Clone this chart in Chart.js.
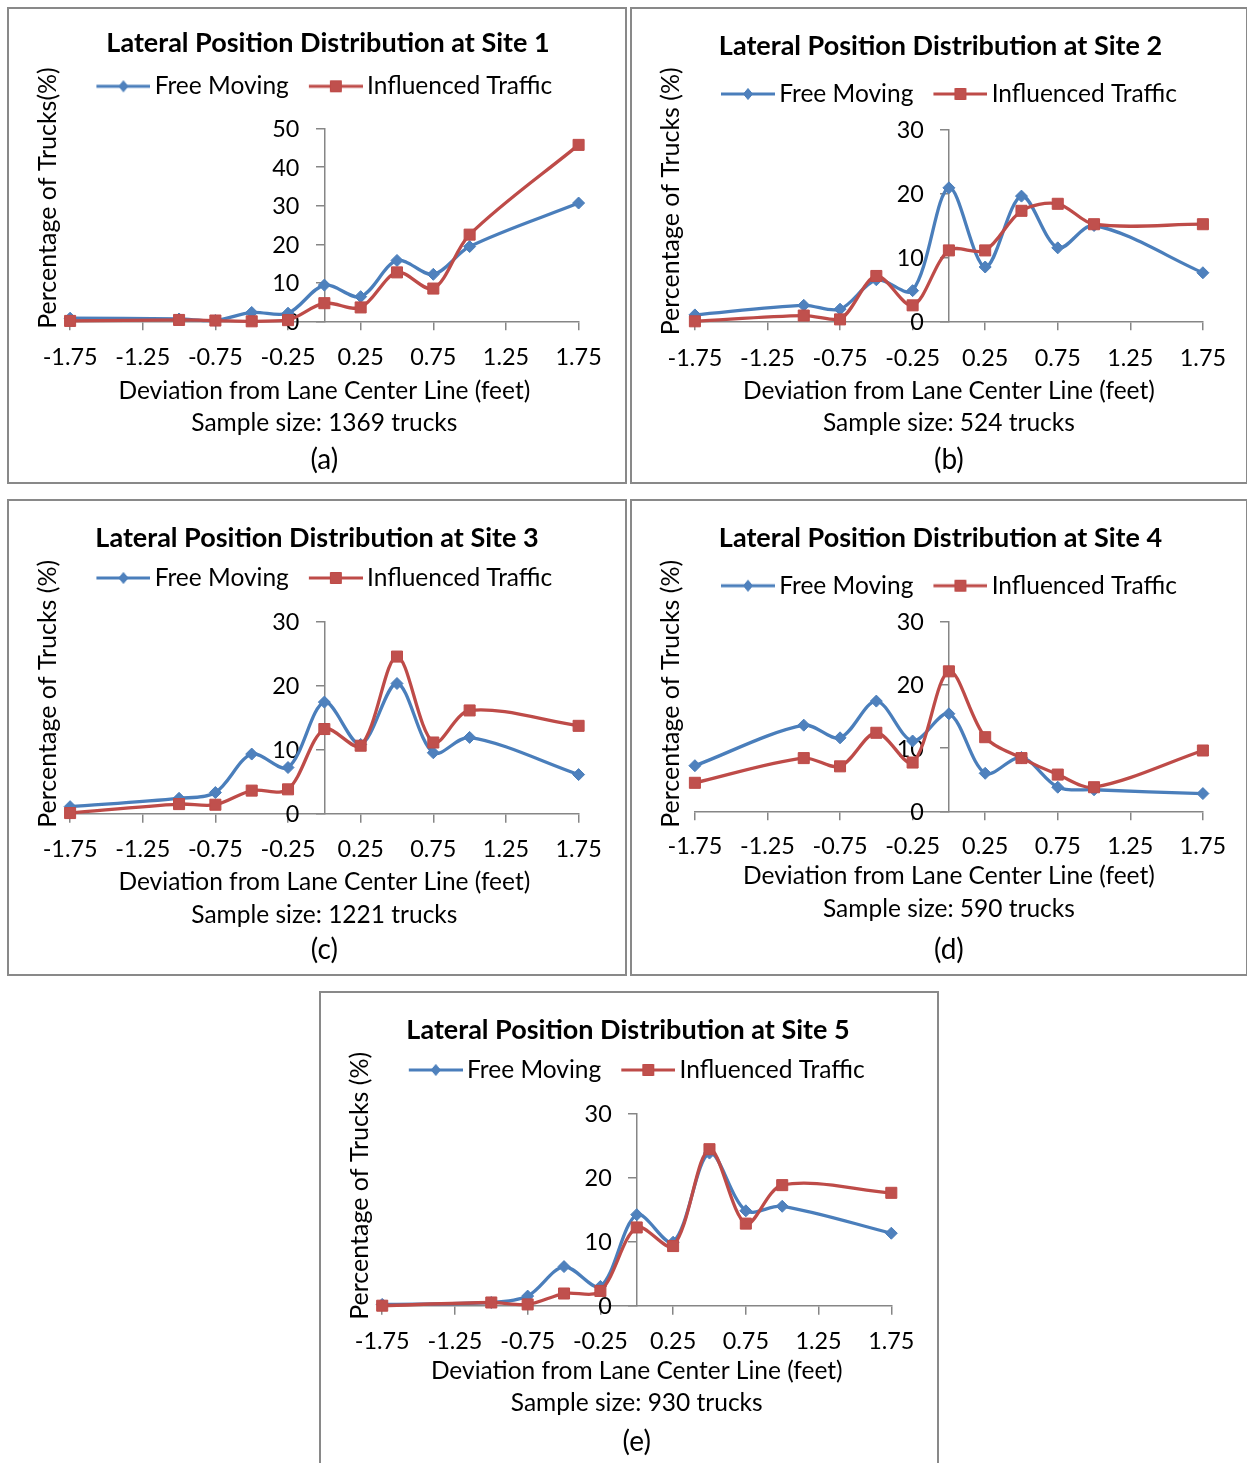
<!DOCTYPE html>
<html>
<head>
<meta charset="utf-8">
<title>Lateral Position Distribution</title>
<script src="https://cdn.jsdelivr.net/npm/chart.js@4.4.1/dist/chart.umd.min.js"></script>
<style>
  html, body { margin: 0; padding: 0; background: #ffffff; }
  body { width: 1247px; height: 1463px; overflow: hidden; position: relative; }
  .panel { position: absolute; box-sizing: border-box; border: 2px solid #898989; background: #ffffff; }
  .panel canvas { display: block; }
</style>
</head>
<body>
<div class="panel" style="left:7px;top:7px;width:620px;height:477px"><canvas id="site1"></canvas></div>
<div class="panel" style="left:630px;top:7px;width:618px;height:477px"><canvas id="site2"></canvas></div>
<div class="panel" style="left:7px;top:499px;width:620px;height:477px"><canvas id="site3"></canvas></div>
<div class="panel" style="left:630px;top:499px;width:618px;height:477px"><canvas id="site4"></canvas></div>
<div class="panel" style="left:319px;top:991px;width:620px;height:477px"><canvas id="site5"></canvas></div>
<script>
// Lateral offsets (feet) at which the truck shares were tallied
const offsets = [-1.75, -1, -0.75, -0.5, -0.25, 0, 0.25, 0.5, 0.75, 1, 1.75];
// Labelled tick positions on the deviation axis
const xTicks = [-1.75, -1.25, -0.75, -0.25, 0.25, 0.75, 1.25, 1.75];

const seriesNames = ['Free Moving', 'Influenced Traffic'];

// Percentage of trucks per offset, site by site
const site1Free = [0.8, 0.6, 0.2, 2.3, 2.1, 9.4, 6.4, 15.8, 12.2, 19.4, 30.7];
const site1Infl = [0.1, 0.35, 0.2, 0.0, 0.3, 4.7, 3.6, 12.7, 8.5, 22.5, 45.8];
const site2Free = [1.0, 2.5, 1.9, 6.5, 4.8, 20.9, 8.5, 19.6, 11.5, 15.0, 7.6];
const site2Infl = [0.0, 0.9, 0.3, 7.1, 2.5, 11.1, 11.1, 17.3, 18.4, 15.2, 15.2];
const site3Free = [1.1, 2.4, 3.3, 9.3, 7.2, 17.4, 10.8, 20.3, 9.5, 11.9, 6.1];
const site3Infl = [0.1, 1.5, 1.4, 3.6, 3.8, 13.2, 10.6, 24.5, 11.1, 16.1, 13.7];
const site4Free = [7.2, 13.6, 11.6, 17.4, 11.1, 15.4, 6.0, 8.5, 3.8, 3.4, 2.8];
const site4Infl = [4.5, 8.4, 7.1, 12.4, 7.7, 22.1, 11.7, 8.4, 5.8, 3.8, 9.6];
const site5Free = [0.2, 0.5, 1.5, 6.1, 3.0, 14.2, 9.9, 23.8, 14.8, 15.5, 11.3];
const site5Infl = [0.0, 0.5, 0.2, 1.9, 2.3, 12.2, 9.3, 24.4, 12.8, 18.8, 17.6];

const siteTitles = [
  'Lateral Position Distribution at Site 1',
  'Lateral Position Distribution at Site 2',
  'Lateral Position Distribution at Site 3',
  'Lateral Position Distribution at Site 4',
  'Lateral Position Distribution at Site 5'
];
const yTitles = [
  'Percentage of Trucks(%)',
  'Percentage of Trucks (%)',
  'Percentage of Trucks (%)',
  'Percentage of Trucks (%)',
  'Percentage of Trucks (%)'
];
const xTitle = 'Deviation from Lane Center Line (feet)';
const sampleSizes = [1369, 524, 1221, 590, 930];
const panelTags = ['(a)', '(b)', '(c)', '(d)', '(e)'];
const yMaxima = [50, 30, 30, 30, 30];

const freeSeries = [site1Free, site2Free, site3Free, site4Free, site5Free];
const inflSeries = [site1Infl, site2Infl, site3Infl, site4Infl, site5Infl];

// ---- styling ----
const FONT = "Lato, 'Open Sans', 'DejaVu Sans', sans-serif";
const BLUE_LINE = '#4A7EBB', BLUE_FILL = '#4F81BD';
const RED_LINE = '#BE4B48', RED_FILL = '#C0504D';
const AXIS = '#868686';
const CANVAS_H = 473;

// Placement of each panel's pieces inside its canvas
const frames = [
  { w: 616, T: 34.0, L: 77.3, pl: 61.1, pr: 569.6, pt: 119.7, pb: 312.3, tick: 348.3, xt: 381.7, tag: 450.7, shift: 22, yt: [38.6, 189.0] },
  { w: 614, T: 37.3, L: 85.0, pl: 62.9, pr: 570.9, pt: 120.7, pb: 312.3, tick: 349.0, xt: 381.7, tag: 451.3, shift: 3,  yt: [39.3, 192.3] },
  { w: 616, T: 37.0, L: 77.0, pl: 61.1, pr: 569.6, pt: 120.3, pb: 312.7, tick: 348.7, xt: 381.3, tag: 448.7, shift: 0,  yt: [39.0, 192.8] },
  { w: 614, T: 37.0, L: 84.7, pl: 62.9, pr: 570.9, pt: 120.3, pb: 310.3, tick: 345.3, xt: 375.3, tag: 448.7, shift: 3,  yt: [39.3, 192.8] },
  { w: 616, T: 37.0, L: 77.0, pl: 61.2, pr: 570.3, pt: 120.3, pb: 312.7, tick: 348.7, xt: 378.0, tag: 448.7, shift: -2, yt: [39.0, 192.8] }
];

// Text sizes
const TITLE_SIZE = 27, LEGEND_SIZE = 24.5, TICK_SIZE = 23.4, XT_SIZE = 24.5, TAG_SIZE = 28, YT_SIZE = 25;

// Rotated title drawn beside the value axis
const sideTitle = {
  id: 'sideTitle',
  afterDraw(chart, args, opts) {
    const ctx = chart.ctx;
    ctx.save();
    ctx.translate(opts.x, opts.y);
    ctx.rotate(-Math.PI / 2);
    ctx.font = opts.font;
    ctx.fillStyle = opts.color;
    ctx.textAlign = 'center';
    ctx.textBaseline = 'middle';
    ctx.fillText(opts.text, 0, 0);
    ctx.restore();
  }
};

// Value-axis numbers, set to the left of the axis that crosses at x = 0
const valueLabels = {
  id: 'valueLabels',
  beforeDatasetsDraw(chart, args, opts) {
    const ctx = chart.ctx;
    const ys = chart.scales.y;
    const ax = chart.scales.x.getPixelForValue(0);
    ctx.save();
    ctx.font = opts.font;
    ctx.fillStyle = opts.color;
    ctx.textAlign = 'right';
    ctx.textBaseline = 'middle';
    ys.ticks.forEach((t) => {
      const text = t.label !== undefined ? String(t.label) : String(t.value);
      ctx.fillText(text, ax - opts.offset, ys.getPixelForValue(t.value) + 1);
    });
    ctx.restore();
  }
};

// Legend swatch: a short line with the series marker in its middle
function legendSwatch(line, fill, shape) {
  const c = document.createElement('canvas');
  c.width = 62; c.height = 16;
  const g = c.getContext('2d');
  g.strokeStyle = line; g.lineWidth = 3;
  g.beginPath(); g.moveTo(8, 8); g.lineTo(62, 8); g.stroke();
  g.fillStyle = fill; g.lineWidth = 1;
  g.beginPath();
  if (shape === 'diamond') {
    g.moveTo(30.5, 8); g.lineTo(35, 2.5); g.lineTo(39.5, 8); g.lineTo(35, 13.5); g.closePath();
  } else {
    g.rect(29.5, 2.5, 11, 11);
  }
  g.fill(); g.stroke();
  return c;
}
const blueSwatch = legendSwatch(BLUE_LINE, BLUE_FILL, 'diamond');
const redSwatch = legendSwatch(RED_LINE, RED_FILL, 'square');

function points(values) {
  return offsets.map((x, i) => ({ x: x, y: values[i] }));
}

function drawSite(i) {
  const f = frames[i];
  const canvas = document.getElementById('site' + (i + 1));
  canvas.width = f.w;
  canvas.height = CANVAS_H;

  const titleLh = TITLE_SIZE;
  const legendPad = 20;
  const tickLh = TICK_SIZE * 1.2, tickLen = 9;
  const xtLh = 32.5;
  const tagLh = TAG_SIZE * 1.2;

  // top stack: title, legend, spacer
  const titlePadTop = f.T - titleLh / 2;
  const legendTop = f.L - legendPad - LEGEND_SIZE / 2;
  const titlePadBottom = legendTop - (titlePadTop + titleLh);
  const legendBottom = legendTop + LEGEND_SIZE + legendPad + 10;
  const gap = f.pt - legendBottom;
  // bottom stack: tick labels, axis title (two lines), panel tag
  const tickPad = f.tick - f.pb - tickLen - tickLh / 2;
  const xtPadTop = f.xt - (f.tick + tickLh / 2) - tickPad - xtLh / 2;
  const tagPadTop = f.tag - (f.xt + xtLh + xtLh / 2) - tagLh / 2;

  new Chart(canvas, {
    type: 'line',
    data: {
      datasets: [
        {
          label: seriesNames[0], data: points(freeSeries[i]),
          xAxisID: 'x', yAxisID: 'y', order: 1,
          borderColor: BLUE_LINE, backgroundColor: BLUE_FILL, borderWidth: 3.3,
          pointStyle: 'rectRot', pointRadius: 6, pointBorderWidth: 1,
          pointBackgroundColor: BLUE_FILL, pointBorderColor: BLUE_LINE,
          tension: 0.32, clip: false
        },
        {
          label: seriesNames[1], data: points(inflSeries[i]),
          xAxisID: 'x', yAxisID: 'y', order: 0,
          borderColor: RED_LINE, backgroundColor: RED_FILL, borderWidth: 3.3,
          pointStyle: 'rect', pointRadius: 7.8, pointBorderWidth: 1,
          pointBackgroundColor: RED_FILL, pointBorderColor: RED_LINE,
          tension: 0.32, clip: false
        }
      ]
    },
    options: {
      responsive: false,
      animation: false,
      devicePixelRatio: 1,
      events: [],
      layout: { padding: { left: Math.max(f.shift, 0), right: Math.max(-f.shift, 0), top: 0, bottom: 0 } },
      scales: {
        x: {
          type: 'linear', axis: 'x', position: 'bottom', min: -1.75, max: 1.75,
          afterBuildTicks: (s) => { s.ticks = xTicks.map(v => ({ value: v })); },
          ticks: {
            autoSkip: false, maxRotation: 0, minRotation: 0, padding: tickPad,
            font: { family: FONT, size: TICK_SIZE, lineHeight: 1.2 }, color: '#000000',
            callback: (v) => Number(v).toFixed(2)
          },
          grid: { display: true, drawOnChartArea: false, drawTicks: true, tickLength: tickLen, color: AXIS, lineWidth: 1.5 },
          border: { display: true, color: AXIS, width: 1.5 },
          title: {
            display: true,
            text: [xTitle, 'Sample size: ' + sampleSizes[i] + ' trucks'],
            font: { family: FONT, size: XT_SIZE, lineHeight: xtLh / XT_SIZE },
            color: '#000000',
            padding: { top: xtPadTop, bottom: 0 }
          }
        },
        gap: {
          type: 'linear', axis: 'x', position: 'top', min: 0, max: 1, display: true,
          ticks: { display: false },
          grid: { display: true, drawOnChartArea: false, drawTicks: true, tickLength: gap, color: 'rgba(0,0,0,0)' },
          border: { display: false },
          title: { display: false }
        },
        y: {
          type: 'linear', axis: 'y', position: { x: 0 }, min: 0, max: yMaxima[i],
          ticks: { stepSize: 10, display: false },
          grid: { display: true, drawOnChartArea: false, drawTicks: true, tickLength: 8, color: AXIS, lineWidth: 1.5 },
          border: { display: true, color: AXIS, width: 1.5 },
          afterFit: (s) => {
            s.paddingLeft = f.pl;
            s.paddingRight = f.w - f.pr;
            s.paddingBottom = CANVAS_H - f.pb;
          }
        }
      },
      plugins: {
        title: {
          display: true, text: siteTitles[i], color: '#000000',
          font: { family: FONT, size: TITLE_SIZE, weight: 'bold', lineHeight: 1 },
          padding: { top: titlePadTop, bottom: titlePadBottom }
        },
        subtitle: {
          display: true, position: 'bottom', fullSize: false, text: panelTags[i], color: '#000000',
          font: { family: FONT, size: TAG_SIZE, weight: 'normal', lineHeight: 1.2 },
          padding: { top: tagPadTop, bottom: 0 }
        },
        legend: {
          display: true, position: 'top', fullSize: false, align: 'center',
          labels: {
            usePointStyle: true, pointStyleWidth: 46, padding: legendPad,
            font: { family: FONT, size: LEGEND_SIZE }, color: '#000000',
            generateLabels: () => [
              { text: seriesNames[0], pointStyle: blueSwatch, datasetIndex: 0, hidden: false, fontColor: '#000000', lineWidth: 0, fillStyle: BLUE_FILL, strokeStyle: BLUE_LINE },
              { text: seriesNames[1], pointStyle: redSwatch, datasetIndex: 1, hidden: false, fontColor: '#000000', lineWidth: 0, fillStyle: RED_FILL, strokeStyle: RED_LINE }
            ]
          }
        },
        tooltip: { enabled: false },
        sideTitle: {
          text: yTitles[i], x: f.yt[0], y: f.yt[1],
          font: YT_SIZE + 'px ' + FONT, color: '#000000'
        },
        valueLabels: { font: TICK_SIZE + 'px ' + FONT, color: '#000000', offset: 25 }
      }
    },
    plugins: [sideTitle, valueLabels]
  });
}

for (let i = 0; i < 5; i++) drawSite(i);
</script>
</body>
</html>
